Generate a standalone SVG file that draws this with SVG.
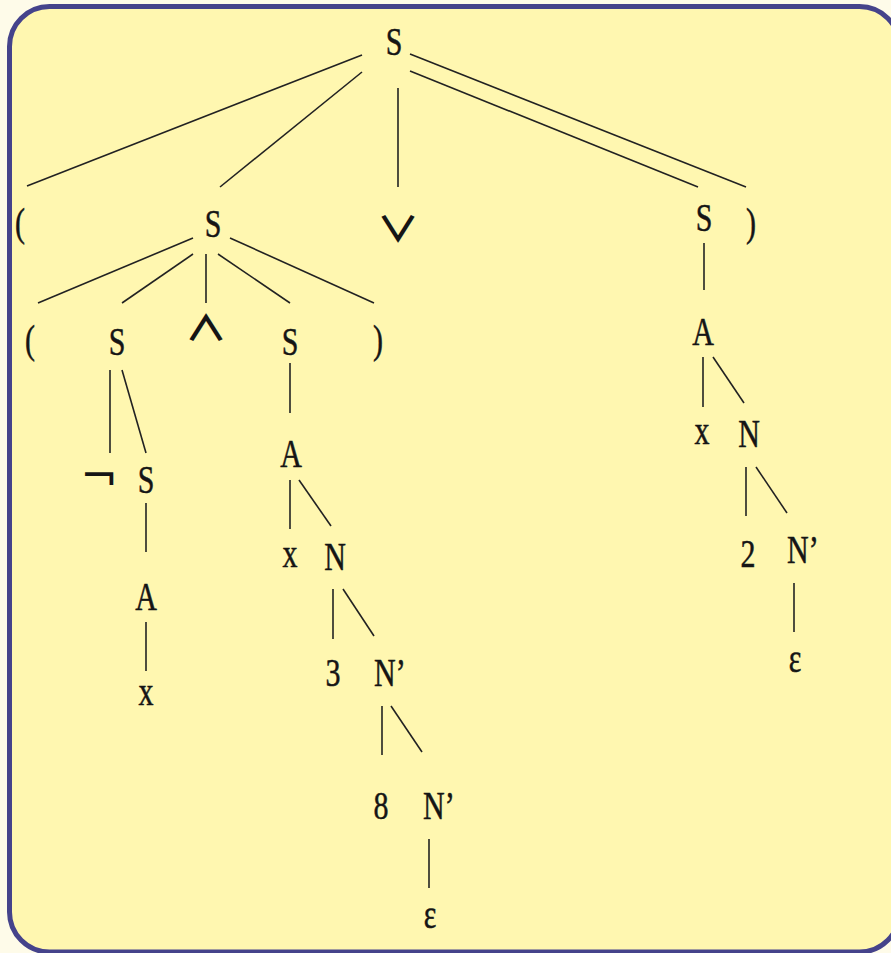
<svg xmlns="http://www.w3.org/2000/svg" width="891" height="953" viewBox="0 0 891 953">
<style>
text{font-family:"Liberation Serif","Times New Roman",Times,serif;font-size:40px;fill:#151515;stroke:#151515;stroke-width:0.5}
.t{text-anchor:middle}
.ts{text-anchor:start}
.m{font-family:"Noto Sans CJK SC","DejaVu Sans",sans-serif;font-size:37px;font-weight:700;text-anchor:middle;stroke:none}
.n{font-family:"DejaVu Sans",sans-serif;font-size:45px;text-anchor:middle;stroke:none}
.e line{stroke:#222;stroke-width:1.6;stroke-linecap:butt}
</style>
<rect x="0" y="0" width="891" height="953" fill="#fefbe9"/>
<rect x="9.5" y="6.5" width="890" height="945.5" rx="40" ry="40" fill="#fff7b0" stroke="#45438b" stroke-width="5"/>
<g class="e" id="connectors">
<line x1="362" y1="55" x2="27" y2="186"/>
<line x1="362" y1="72" x2="220" y2="187"/>
<line x1="398" y1="88" x2="398" y2="187"/>
<line x1="410" y1="71" x2="698" y2="187"/>
<line x1="410" y1="54" x2="746" y2="187"/>
<line x1="193" y1="238" x2="38" y2="303"/>
<line x1="193" y1="254" x2="122" y2="303"/>
<line x1="206" y1="254" x2="206" y2="303"/>
<line x1="218" y1="254" x2="290" y2="303"/>
<line x1="230" y1="238" x2="374" y2="303"/>
<line x1="110" y1="370" x2="110" y2="453"/>
<line x1="122" y1="370" x2="146" y2="453"/>
<line x1="146" y1="503" x2="146" y2="552"/>
<line x1="146" y1="622" x2="146" y2="671"/>
<line x1="290" y1="363" x2="290" y2="413"/>
<line x1="290" y1="480" x2="290" y2="529"/>
<line x1="299" y1="480" x2="331" y2="526"/>
<line x1="333" y1="589" x2="333" y2="639"/>
<line x1="343" y1="589" x2="374" y2="636"/>
<line x1="382" y1="706" x2="382" y2="755"/>
<line x1="391" y1="706" x2="422" y2="752"/>
<line x1="429" y1="839" x2="429" y2="888"/>
<line x1="704" y1="243" x2="704" y2="290"/>
<line x1="703" y1="357" x2="703" y2="407"/>
<line x1="713" y1="357" x2="744" y2="403"/>
<line x1="746" y1="467" x2="746" y2="516"/>
<line x1="756" y1="467" x2="787" y2="513"/>
<line x1="794" y1="583" x2="794" y2="632"/>
</g>
<g id="n-root"><text class="t" transform="translate(394,55) scale(0.75,1)">S</text></g>
<g id="n-lp1"><text class="t" transform="translate(20,236) scale(0.75,1)">(</text></g>
<g id="n-s2"><text class="t" transform="translate(213,237) scale(0.75,1)">S</text></g>
<g id="n-or"><text class="m" transform="translate(398,242) scale(1.15,0.95)">∨</text></g>
<g id="n-s2r"><text class="t" transform="translate(704,231) scale(0.75,1)">S</text></g>
<g id="n-rp1"><text class="t" transform="translate(751,236) scale(0.75,1)">)</text></g>
<g id="n-lp2"><text class="t" transform="translate(30,353) scale(0.75,1)">(</text></g>
<g id="n-s3a"><text class="t" transform="translate(117,355) scale(0.75,1)">S</text></g>
<g id="n-and"><text class="m" transform="translate(206,341) scale(1.15,0.95)">∧</text></g>
<g id="n-s3b"><text class="t" transform="translate(290,355) scale(0.75,1)">S</text></g>
<g id="n-rp2"><text class="t" transform="translate(378,353) scale(0.75,1)">)</text></g>
<g id="n-not"><text class="n" transform="translate(99,491)">¬</text></g>
<g id="n-s4"><text class="t" transform="translate(146,493) scale(0.75,1)">S</text></g>
<g id="n-a4"><text class="t" transform="translate(146,610) scale(0.75,1)">A</text></g>
<g id="n-x4"><text class="t" transform="translate(146,705) scale(0.75,1)">x</text></g>
<g id="n-a3"><text class="t" transform="translate(291,467) scale(0.75,1)">A</text></g>
<g id="n-x3"><text class="t" transform="translate(290,567) scale(0.75,1)">x</text></g>
<g id="n-n3"><text class="t" transform="translate(335,570) scale(0.75,1)">N</text></g>
<g id="n-3"><text class="t" transform="translate(333,686) scale(0.75,1)">3</text></g>
<g id="n-np3"><text class="ts" transform="translate(374,686) scale(0.75,1)">N’</text></g>
<g id="n-8"><text class="t" transform="translate(381,819) scale(0.75,1)">8</text></g>
<g id="n-np3b"><text class="ts" transform="translate(423,819) scale(0.75,1)">N’</text></g>
<g id="n-eps3"><text class="t" transform="translate(430,928) scale(0.75,1)">ε</text></g>
<g id="n-ar"><text class="t" transform="translate(703,345) scale(0.75,1)">A</text></g>
<g id="n-xr"><text class="t" transform="translate(702,444) scale(0.75,1)">x</text></g>
<g id="n-nr"><text class="t" transform="translate(749,447) scale(0.75,1)">N</text></g>
<g id="n-2"><text class="t" transform="translate(748,567) scale(0.75,1)">2</text></g>
<g id="n-npr"><text class="ts" transform="translate(787,563) scale(0.75,1)">N’</text></g>
<g id="n-epsr"><text class="t" transform="translate(795,672) scale(0.75,1)">ε</text></g>
</svg>
